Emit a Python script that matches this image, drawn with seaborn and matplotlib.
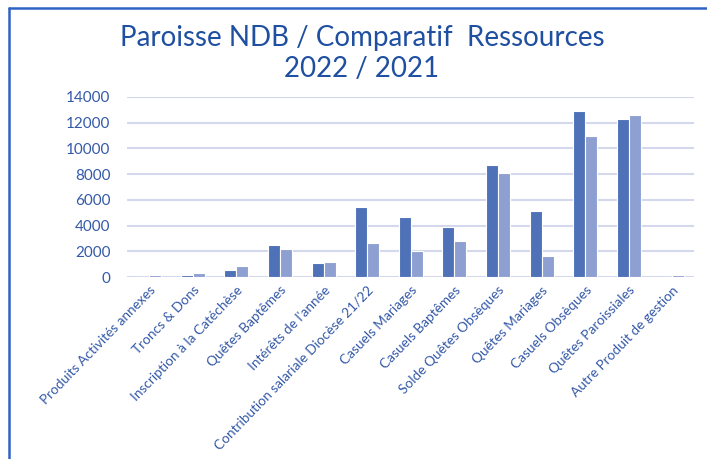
import numpy as np
import pandas as pd
import matplotlib
matplotlib.use("Agg")
import matplotlib.pyplot as plt
from matplotlib.lines import Line2D
import seaborn as sns

# donnees
categories = [
    "Produits Activités annexes", "Troncs & Dons", "Inscription à la Catéchèse",
    "Quêtes Baptêmes", "Intérêts de l'année", "Contribution salariale Diocèse 21/22",
    "Casuels Mariages", "Casuels Baptêmes", "Solde Quêtes Obsèques",
    "Quêtes Mariages", "Casuels Obsèques", "Quêtes Paroissiales",
    "Autre Produit de gestion",
]
values_2022 = [0, 130, 520, 2450, 1085, 5420, 4700, 3870, 8700, 5160, 12900, 12310, 0]
values_2021 = [130, 310, 830, 2190, 1160, 2630, 1990, 2810, 8050, 1600, 10970, 12600, 130]
years = ["2022", "2021"]

df = pd.DataFrame({
    "categorie": categories * 2,
    "montant": values_2022 + values_2021,
    "annee": [years[0]] * len(categories) + [years[1]] * len(categories),
})

text_col = "#3459A8"
sns.set_style("white")
plt.rcParams["font.family"] = ["Lato", "DejaVu Sans"]

fig = plt.figure(figsize=(7.07, 4.59), dpi=100)
ax = fig.add_axes([0.18, 0.3965, 0.802, 0.3925])

sns.barplot(data=df, x="categorie", y="montant", hue="annee",
            palette={"2022": "#4E71B8", "2021": "#8E9FD1"}, saturation=1,
            width=0.55, edgecolor="white", linewidth=0.8,
            legend=False, ax=ax, zorder=3)

ax.set_ylim(0, 14000)
ax.set_yticks(np.arange(0, 14001, 2000))
ax.grid(axis="y", color="#D3D8EC", linewidth=1.5, zorder=0)
for s in ax.spines.values():
    s.set_visible(False)
ax.set_xlabel("")
ax.set_ylabel("")
ax.tick_params(axis="y", labelsize=11, labelcolor=text_col, length=0, pad=12)
ax.tick_params(axis="x", length=0, pad=5)
ax.set_xticks(range(len(categories)))
ax.set_xticklabels(categories, rotation=46, ha="right", rotation_mode="anchor",
                   fontsize=9.8, color=text_col)

fig.suptitle("Paroisse NDB / Comparatif  Ressources\n2022 / 2021",
             x=0.512, y=0.945, fontsize=20, color="#1F4FA0", linespacing=1.25)

# cadre bleu (haut et gauche)
fig.add_artist(Line2D([9/707, 9/707], [0, 1 - 8/459], transform=fig.transFigure,
                      color="#2F62C4", linewidth=1.8))
fig.add_artist(Line2D([9/707, 1], [1 - 8/459, 1 - 8/459], transform=fig.transFigure,
                      color="#2F62C4", linewidth=1.8))

fig.savefig("out.png", dpi=100)
